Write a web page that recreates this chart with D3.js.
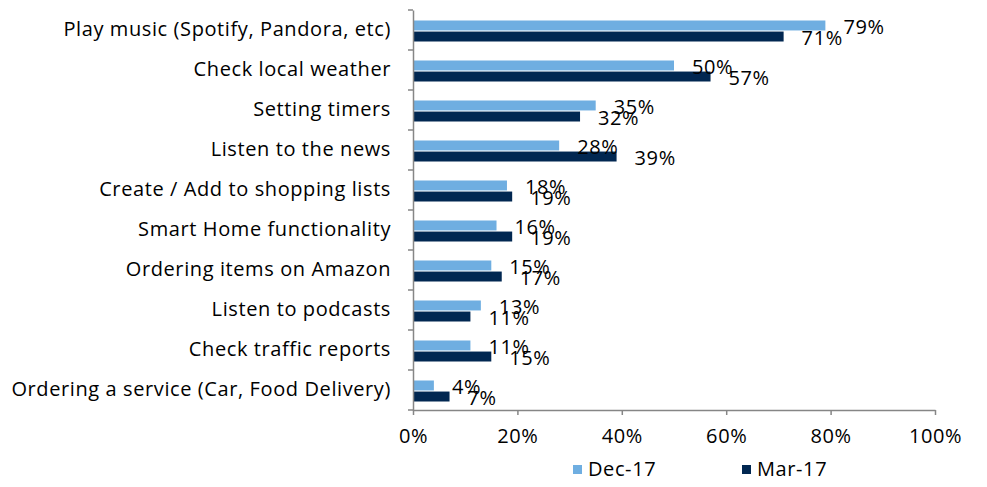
<!DOCTYPE html>
<html>
<head>
<meta charset="utf-8">
<script src="https://cdn.jsdelivr.net/npm/d3@7"></script>
<style>
  html, body { margin: 0; padding: 0; background: #fff; }
  svg { display: block; font-family: "Open Sans", sans-serif; }
  text { letter-spacing: 0.6px; }
</style>
</head>
<body>
<svg id="chart" width="987" height="487"></svg>
<script>
// Smart speaker usage by activity, two survey waves
const categories = [
  "Play music (Spotify, Pandora, etc)",
  "Check local weather",
  "Setting timers",
  "Listen to the news",
  "Create / Add to shopping lists",
  "Smart Home functionality",
  "Ordering items on Amazon",
  "Listen to podcasts",
  "Check traffic reports",
  "Ordering a service (Car, Food Delivery)"
];
const seriesNames = ["Dec-17", "Mar-17"];
const dec17 = [79, 50, 35, 28, 18, 16, 15, 13, 11, 4];
const mar17 = [71, 57, 32, 39, 19, 19, 17, 11, 15, 7];
const xTicks = [0, 20, 40, 60, 80, 100];
const colors = ["#6FAEE1", "#012751"];

const FONT = "'Open Sans', sans-serif";
const FS = 20;

const svg = d3.select("#chart");
const margin = { left: 413, right: 52, top: 10, bottom: 77 };
const W = 987, H = 487;

const x = d3.scaleLinear().domain([0, 100]).range([margin.left, W - margin.right]);
const y = d3.scaleBand().domain(categories).range([margin.top, H - margin.bottom]);
const inner = d3.scaleBand().domain(seriesNames).range([10.5, 31.5]).paddingInner(0.1);

const series = [dec17, mar17];

// bars
seriesNames.forEach((name, si) => {
  svg.append("g").selectAll("rect")
    .data(categories)
    .join("rect")
    .attr("x", x(0))
    .attr("y", (c) => y(c) + inner(name))
    .attr("width", (c, i) => x(series[si][i]) - x(0))
    .attr("height", inner.bandwidth())
    .attr("fill", colors[si]);
});

// value labels
seriesNames.forEach((name, si) => {
  svg.append("g").selectAll("text")
    .data(categories)
    .join("text")
    .attr("x", (c, i) => x(series[si][i]) + 18)
    .attr("y", (c) => y(c) + inner(name) + inner.bandwidth() / 2 + 3)
    .attr("dominant-baseline", "middle")
    .attr("font-size", FS)
    .attr("fill", "#000")
    .text((c, i) => series[si][i] + "%");
});

// y axis
const yAxis = d3.axisLeft(y).tickSize(0).tickPadding(22);
const yg = svg.append("g").attr("transform", `translate(${x(0)},0)`).call(yAxis);
yg.select(".domain").attr("stroke", "#868686").attr("stroke-width", 1.5);
yg.selectAll("text").attr("font-size", FS).attr("fill", "#000").attr("font-family", FONT);
// category boundary ticks
svg.append("g").selectAll("line")
  .data(categories.concat(["__end"]))
  .join("line")
  .attr("x1", x(0) - 5).attr("x2", x(0))
  .attr("y1", (c, i) => margin.top + i * y.step())
  .attr("y2", (c, i) => margin.top + i * y.step())
  .attr("stroke", "#868686").attr("stroke-width", 1.5);

// x axis
const xAxis = d3.axisBottom(x).tickValues(xTicks).tickFormat((d) => d + "%").tickSizeOuter(0).tickSizeInner(5).tickPadding(14);
const xg = svg.append("g").attr("transform", `translate(0,${H - margin.bottom})`).call(xAxis);
xg.select(".domain").attr("stroke", "#868686").attr("stroke-width", 1.5);
xg.selectAll(".tick line").attr("stroke", "#868686").attr("stroke-width", 1.5);
xg.selectAll("text").attr("font-size", FS).attr("fill", "#000").attr("font-family", FONT);

// legend
const legendX = [573, 742];
const lg = svg.append("g");
seriesNames.forEach((name, si) => {
  lg.append("rect").attr("x", legendX[si]).attr("y", 465).attr("width", 9).attr("height", 9).attr("fill", colors[si]);
  lg.append("text").attr("x", legendX[si] + 15).attr("y", 471).attr("dominant-baseline", "middle")
    .attr("font-size", FS).attr("font-family", FONT).attr("fill", "#000").text(name);
});
</script>
</body>
</html>
